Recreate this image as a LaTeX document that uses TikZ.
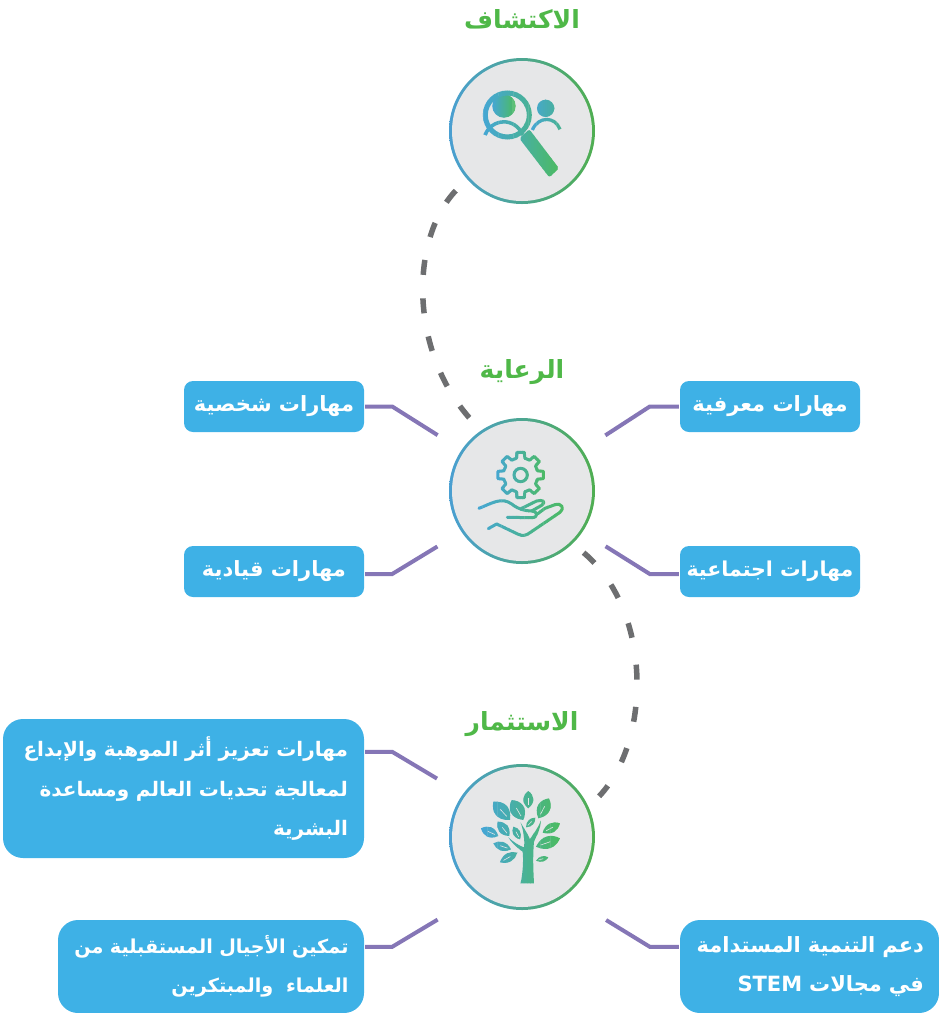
\documentclass[tikz,border=0pt]{standalone}
\usepackage{fontspec}
\usetikzlibrary{calc}
\TeXXeTstate=1
\newfontfamily\arabicfont[Script=Arabic]{DejaVu Sans}
\definecolor{boxblue}{HTML}{3EB1E6}
\definecolor{linkpurple}{HTML}{8576B6}
\definecolor{dashgrey}{HTML}{6D6E70}
\definecolor{titlegreen}{HTML}{4FB848}
\definecolor{discgrey}{HTML}{E6E7E8}
\definecolor{ringblue}{HTML}{4A9FD2}
\definecolor{ringgreen}{HTML}{4FAE50}
\definecolor{iconblue}{HTML}{45A6D6}
\definecolor{icongreen}{HTML}{4CBB63}
\newcommand{\gradarea}[3]{\foreach \gi in {0,...,23}{\pgfmathsetmacro\gp{100*\gi/23}\colorlet{gc}{icongreen!\gp!iconblue}\begin{scope}\clip ({#1+(#2-#1)*\gi/24-1},0) rectangle ({#1+(#2-#1)*(\gi+1)/24},540);#3\end{scope}}}
\newcommand{\ar}[1]{\beginR #1\endR}
\tikzset{
  x=1pt,y=-1pt,
  title/.style={text=titlegreen,font=\arabicfont\bfseries\fontsize{25}{28}\selectfont,inner sep=0pt},
  ring/.style={circle,minimum size=146pt,inner sep=0pt,left color=ringblue,right color=ringgreen,shading angle=90},
  disc/.style={circle,minimum size=140pt,inner sep=0pt,fill=discgrey},
  skillbox/.style={fill=boxblue,text=white,rounded corners=9pt,inner sep=0pt,align=right,font=\arabicfont\bfseries\fontsize{21}{39.5}\selectfont},
  link/.style={draw=linkpurple,line width=4pt,shorten <=1pt},
  dashlink/.style={draw=dashgrey,line width=5.5pt,dash pattern=on 15pt off 23.5pt},
}
\begin{document}
\begin{tikzpicture}
\useasboundingbox (0,0) rectangle (939,1013);
\node[title] (t1) at (522,19) {\ar{الاكتشاف}};
\node[title] (t2) at (522,372) {\ar{الرعاية}};
\node[title] (t3) at (522,724) {\ar{الاستثمار}};
\node[ring] (c1) at (522,131) {};
\node[disc] (c1i) at (522,131) {};
\node[ring] (c2) at (522,491) {};
\node[disc] (c2i) at (522,491) {};
\node[ring] (c3) at (522,837) {};
\node[disc] (c3i) at (522,837) {};
% boxes
\node[skillbox,minimum width=180pt,minimum height=51pt] (b1) at (274,406.5) {\ar{مهارات شخصية}};
\node[skillbox,minimum width=180pt,minimum height=51pt] (b2) at (770,406.5) {\ar{مهارات معرفية}};
\node[skillbox,minimum width=180pt,minimum height=51pt] (b3) at (274,571.5) {\ar{مهارات قيادية}};
\node[skillbox,minimum width=180pt,minimum height=51pt,font=\arabicfont\bfseries\fontsize{20.5}{39.5}\selectfont] (b4) at (770,571.5) {\ar{مهارات اجتماعية}};
\node[skillbox,font=\arabicfont\bfseries\fontsize{20}{39.5}\selectfont,rounded corners=20pt,minimum width=361pt,minimum height=139pt,text width=329pt] (b5) at (183.5,788.5) {\ar{مهارات تعزيز أثر الموهبة والإبداع}\\\ar{لمعالجة تحديات العالم ومساعدة}\\\ar{البشرية}};
\node[skillbox,font=\arabicfont\bfseries\fontsize{19.2}{39.5}\selectfont,rounded corners=20pt,minimum width=306pt,minimum height=93pt,text width=275pt] (b6) at (211,966.5) {\ar{تمكين الأجيال المستقبلية من}\\\ar{العلماء \ والمبتكرين}};
\node[skillbox,rounded corners=20pt,minimum width=259pt,minimum height=93pt,text width=229pt] (b7) at (809.5,966.5) {\ar{دعم التنمية المستدامة}\\\beginR في مجالات \beginL STEM\endL\endR};
% purple connectors
\draw[link,shorten >=28pt] (b1.east) -- ++(28,0) -- (c2.146);
\draw[link,shorten >=27pt] (b2.west) -- ++(-30,0) -- (c2.34);
\draw[link,shorten >=28pt] (b3.east) ++(0,2.5) -- ++(28,0) -- (c2.214);
\draw[link,shorten >=27pt] (b4.west) ++(0,2.5) -- ++(-30,0) -- (c2.326);
\draw[link,shorten >=30pt] ([yshift=-33pt]b5.north east) -- ++(28,0) -- (c3.144);
\draw[link,shorten >=47pt] ([yshift=-27pt]b6.north east) -- ++(28,0) -- (c3.233);
\draw[link,shorten >=47pt] ([yshift=-27pt]b7.north west) -- ++(-30,0) -- (c3.307);
% dashed connectors
\draw[dashlink,shorten <=16pt,shorten >=10pt] (c1.221) .. controls (409,240) and (409,355) .. (c2.124);
\draw[dashlink,dash pattern=on 15pt off 27.3pt,shorten <=14pt,shorten >=15pt] (c2.314) .. controls (652,610) and (652,740) .. (c3.24);
% magnifier icon
\begin{scope}[shift={(430,40)},x=.3333pt,y=-.3333pt]
\gradarea{187}{257}{
  \fill[gc] (222,198) circle[radius=35];
}
\gradarea{300}{460}{
  \fill[gc] (347,205) circle[radius=26];
  \draw[gc,line width=3.2pt] (307,270) .. controls (325,228) and (375,228) .. (390,268);
}
\gradarea{150}{420}{
  \draw[gc,line width=3.5pt] (165,285) .. controls (185,235) and (255,230) .. (278,285);
  \draw[gc,line width=5pt] (232,225) circle[radius=66];
}
\gradarea{180}{392}{
  \fill[gc,rounded corners=2pt] (268,295) -- (298,268) -- (387,385) -- (358,412) -- cycle;
}
\end{scope}
% hand and gear icon
\begin{scope}[shift={(430,400)},x=.3333pt,y=-.3333pt]
\gradarea{190}{352}{
  \begin{scope}[shift={(272,225)}]
    \draw[gc,line width=3pt,line join=round] (-14:52)
      \foreach \a in {0,45,...,315}{ -- ({\a-14}:52) -- ({\a-9}:69) -- ({\a+9}:69) -- ({\a+14}:52) } -- cycle;
    \draw[gc,line width=3pt] (0,0) circle[radius=20];
  \end{scope}
}
\gradarea{135}{410}{
  \draw[gc,line width=3pt,line cap=round,line join=round] (147,325) .. controls (185,310) and (215,290) .. (245,312) .. controls (265,328) and (285,333) .. (305,333) .. controls (325,335) and (325,353) .. (305,353) -- (232,352);
  \draw[gc,line width=3pt,line cap=round,line join=round] (175,386) -- (200,372) -- (265,403) .. controls (280,410) and (290,405) .. (300,398) -- (390,337) .. controls (405,325) and (395,308) .. (375,314) -- (345,325) -- (322,342);
  \draw[gc,line width=3pt,line cap=round,line join=round] (275,325) -- (320,303) .. controls (338,298) and (350,305) .. (335,316) -- (305,333);
}
\end{scope}
% tree icon
\begin{scope}[shift={(430,750)},x=.3333pt,y=-.3333pt]
\gradarea{153}{392}{
  \fill[gc] (272,400) .. controls (280,360) and (280,325) .. (278,305) .. controls (265,295) and (250,285) .. (235,262) .. controls (255,280) and (270,288) .. (282,292) .. controls (285,270) and (280,240) .. (272,218) .. controls (285,240) and (295,255) .. (300,268) .. controls (310,250) and (325,235) .. (332,212) .. controls (332,240) and (320,255) .. (312,275) .. controls (308,320) and (310,360) .. (312,400) -- cycle;
  \foreach \ax/\ay/\bx/\by/\w in {295/175/295/123/30, 280/210/245/150/42, 325/205/357/145/38, 240/210/190/155/42, 288/232/316/203/18, 238/258/203/215/30, 338/248/390/220/28, 205/258/153/235/30, 270/268/250/230/22, 243/298/190/280/26, 318/290/390/265/36, 210/337/262/308/26, 318/332/355/322/16}{
    \fill[gc] (\ax,\ay) .. controls ($(\ax,\ay)!.35!(\bx,\by)!\w*.25pt!90:(\bx,\by)$) and ($(\ax,\ay)!.75!(\bx,\by)!\w*.2pt!90:(\bx,\by)$) .. (\bx,\by) .. controls ($(\ax,\ay)!.75!(\bx,\by)!\w*.2pt!-90:(\bx,\by)$) and ($(\ax,\ay)!.35!(\bx,\by)!\w*.25pt!-90:(\bx,\by)$) .. (\ax,\ay);
    \draw[discgrey,line width=.6pt] ($(\ax,\ay)!.2!(\bx,\by)$) -- ($(\ax,\ay)!.6!(\bx,\by)$);
  }
}
\end{scope}
\end{tikzpicture}
\end{document}
